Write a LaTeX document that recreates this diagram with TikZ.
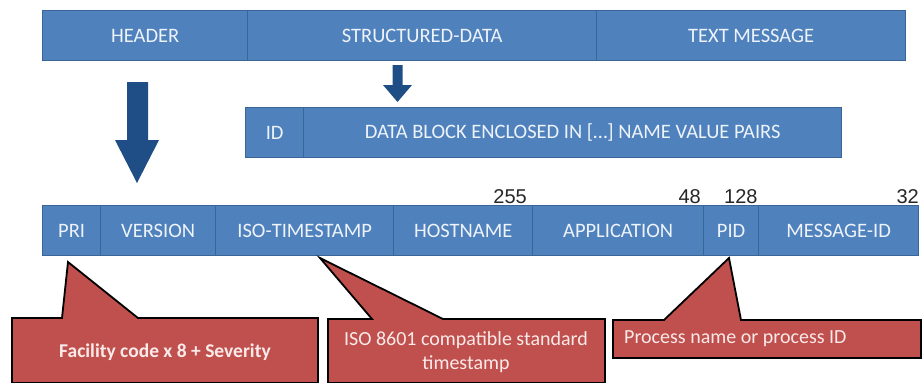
\documentclass[tikz,border=0pt]{standalone}
\usepackage{fontspec}
\setmainfont{Carlito}
\newfontfamily\numfont{Liberation Sans}
\definecolor{cellblue}{HTML}{4F81BD}
\definecolor{cellline}{HTML}{3A6597}
\definecolor{arrowblue}{HTML}{1F4E87}
\definecolor{calred}{HTML}{C0504D}
\definecolor{caltext}{HTML}{FBEAEA}
\definecolor{celltext}{HTML}{EEF3FA}
\tikzset{
  cell/.style={draw=cellline, line width=1.3pt, fill=cellblue, text=celltext, minimum height=50pt, inner sep=0pt, anchor=north west, font=\fontsize{20.5}{24}\selectfont},
  bigarrow/.style={fill=arrowblue, draw=none},
  callout/.style={draw=black, line width=1.8pt, fill=calred, line join=miter},
  caltxt/.style={text=caltext, font=\fontsize{20}{24}\selectfont, inner sep=0pt},
  numlbl/.style={font=\numfont\fontsize{20}{22}\selectfont, inner sep=0pt, text=black!85},
}
\begin{document}
\begin{tikzpicture}[x=1pt,y=-1pt]
\useasboundingbox (0,0) rectangle (922,383);
% top bar
\node[cell, minimum width=205pt] (header) at (42,10) {HEADER};
\node[cell, minimum width=349pt] (sd) at (247,10) {STRUCTURED-DATA};
\node[cell, minimum width=309pt] (txt) at (596,10) {TEXT MESSAGE};
% middle bar
\node[cell, minimum width=58pt] (id) at (245,107) {ID};
\node[cell, minimum width=538pt] (blk) at (303,107) {DATA BLOCK ENCLOSED IN [\dots] NAME VALUE PAIRS};
% bottom bar
\node[cell, minimum width=58pt] (pri) at (42,205) {PRI};
\node[cell, minimum width=115pt] (ver) at (100,205) {VERSION};
\node[cell, minimum width=178pt] (iso) at (215,205) {ISO-TIMESTAMP};
\node[cell, minimum width=139pt] (host) at (393,205) {HOSTNAME};
\node[cell, minimum width=171pt] (app) at (532,205) {APPLICATION};
\node[cell, minimum width=55pt] (pid) at (703,205) {PID};
\node[cell, minimum width=160pt] (msg) at (758,205) {MESSAGE-ID};
% numbers
\node[numlbl, anchor=base east] (n255) at (527,203) {255};
\node[numlbl, anchor=base east] (n48) at (701,203) {48};
\node[numlbl, anchor=base west] (n128) at (724,203) {128};
\node[numlbl, anchor=base east] (n32) at (919,203) {32};
% arrows
\fill[bigarrow] (127,82) -- (148,82) -- (148,140) -- (159,140) -- (137,183) -- (115,140) -- (127,140) -- cycle;
\fill[bigarrow] (392.5,65) -- (402.5,65) -- (402.5,85) -- (412,85) -- (397.5,102) -- (383,85) -- (392.5,85) -- cycle;
% callouts
\draw[callout] (12,318) -- (62,318) -- (68,262) -- (138,318) -- (318,318) -- (318,383) -- (12,383) -- cycle;
\node[caltxt, font=\fontsize{19.5}{24}\selectfont\bfseries] (c1) at (165,352) {Facility code x 8 + Severity};
\draw[callout] (328,319) -- (372,319) -- (320,258) -- (443,319) -- (605,319) -- (605,383) -- (328,383) -- cycle;
\node[caltxt, align=center] (c2) at (466,352) {ISO 8601 compatible standard\\timestamp};
\draw[callout] (613,320) -- (664,320) -- (729,258) -- (741,320) -- (921,320) -- (921,358) -- (613,358) -- cycle;
\node[caltxt, anchor=west] (c3) at (624,339) {Process name or process ID};
\end{tikzpicture}
\end{document}
